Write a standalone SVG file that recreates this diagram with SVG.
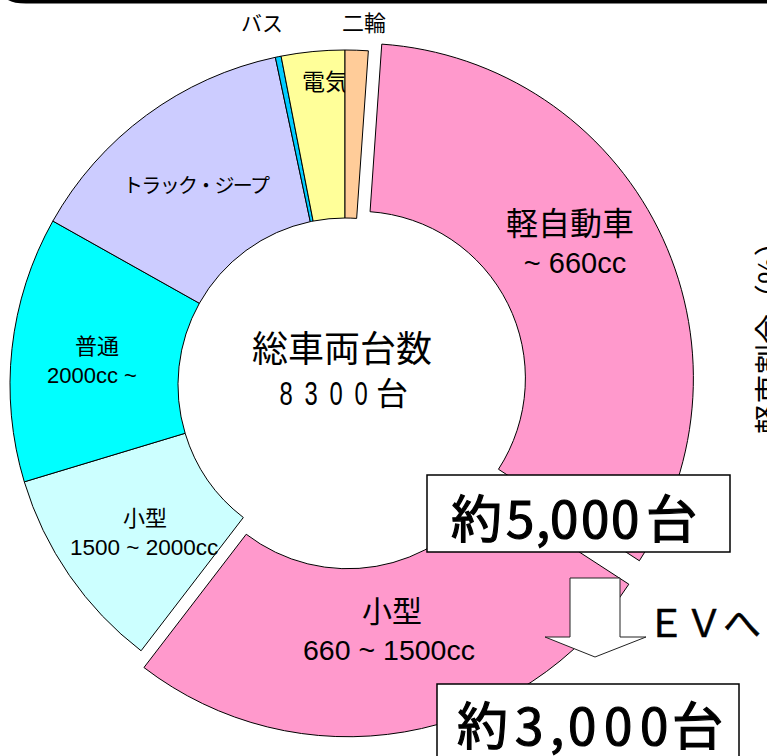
<svg xmlns="http://www.w3.org/2000/svg" width="767" height="756" viewBox="0 0 767 756">
<style>
.seg{stroke:#000;stroke-width:1;stroke-linejoin:round}
.jp{font-family:"Noto Sans CJK JP","Noto Sans",sans-serif;fill:#000}
.lat{font-family:"Liberation Sans",Arial,sans-serif;fill:#000}
.box{fill:#fff;stroke:#000;stroke-width:1.5}
.big{font-size:51px;stroke:#000;stroke-width:1.2}
</style>
<rect x="0" y="0" width="767" height="756" fill="#fff"/>
<path d="M8 0 Q14 3.5 26 3.5 L767 3.5 L767 0 Z" fill="#000"/>

<g id="seg-kogata2">
<path class="seg" fill="#CCFFFF" d="M141.07 650.77 A335 335 0 0 1 24.30 481.83 L185.13 433.27 A167 167 0 0 0 243.34 517.49 Z"/>
<text class="jp" x="145" y="526" font-size="22" text-anchor="middle">小型</text>
<text class="lat" x="70" y="555" font-size="22.5">1500 ~ 2000cc</text>
</g>
<g id="seg-futsu">
<path class="seg" fill="#00FFFF" d="M24.30 481.83 A335 335 0 0 1 52.86 221.06 L199.36 303.27 A167 167 0 0 0 185.13 433.27 Z"/>
<text class="jp" x="97" y="354" font-size="22" text-anchor="middle">普通</text>
<text class="lat" x="47" y="383" font-size="22">2000cc ~</text>
</g>
<g id="seg-truck">
<path class="seg" fill="#CCCCFF" d="M52.86 221.06 A335 335 0 0 1 275.35 57.32 L310.28 221.65 A167 167 0 0 0 199.36 303.27 Z"/>
<text class="jp" x="123" y="193" font-size="20" textLength="147" lengthAdjust="spacing">トラック・ジープ</text>
</g>
<g id="seg-bus">
<path class="seg" fill="#00CCFF" d="M275.35 57.32 A335 335 0 0 1 281.08 56.15 L313.13 221.07 A167 167 0 0 0 310.28 221.65 Z"/>
<text class="jp" x="262" y="31" font-size="21" text-anchor="middle">バス</text>
</g>
<g id="seg-denki">
<path class="seg" fill="#FFFF99" d="M281.08 56.15 A335 335 0 0 1 345 50 L345 218 A167 167 0 0 0 313.13 221.07 Z"/>
<text class="jp" x="325" y="90" font-size="23" text-anchor="middle">電気</text>
</g>
<g id="seg-nirin">
<path class="seg" fill="#FFCC99" d="M345 50 A335 335 0 0 1 368.37 50.82 L356.65 218.41 A167 167 0 0 0 345 218 Z"/>
<text class="jp" x="364" y="31" font-size="22" text-anchor="middle">二輪</text>
</g>
<g id="seg-kei">
<path class="seg" fill="#FF99CC" d="M381.77 44.12 A335 335 0 0 1 639.35 560.75 L498.46 469.25 A167 167 0 0 0 370.05 211.71 Z"/>
<text class="jp" x="570" y="235" font-size="32" text-anchor="middle">軽自動車</text>
<text class="lat" x="575" y="273" font-size="29" text-anchor="middle">~ 660cc</text>
</g>
<g id="seg-kogata1">
<path class="seg" fill="#FF99CC" d="M628.83 584.20 A335 335 0 0 1 143.95 667.52 L246.22 534.24 A167 167 0 0 0 487.94 492.70 Z"/>
<text class="jp" x="392" y="622" font-size="30" text-anchor="middle">小型</text>
<text class="lat" x="303" y="660" font-size="28.5">660 ~ 1500cc</text>
</g>

<g id="center-label">
<text class="jp" x="342" y="362" font-size="36" text-anchor="middle">総車両台数</text>
<text class="lat" font-size="34" text-anchor="middle" transform="translate(286,405) scale(0.7,1)">8</text>
<text class="lat" font-size="34" text-anchor="middle" transform="translate(311,405) scale(0.7,1)">3</text>
<text class="lat" font-size="34" text-anchor="middle" transform="translate(336,405) scale(0.7,1)">0</text>
<text class="lat" font-size="34" text-anchor="middle" transform="translate(361,405) scale(0.7,1)">0</text>
<text class="jp" x="392" y="405" font-size="32" text-anchor="middle">台</text>
</g>

<g id="connectors">
<polygon points="570,578 620,578 620,637 646,637 595,657 545,637 570,637" fill="#fff" stroke="#222" stroke-width="1"/>
</g>

<g id="box-5000">
<rect class="box" x="427" y="475" width="303" height="77"/>
<text class="jp big" y="538" x="451 506 536 550 581 611 646">約5,000台</text>
</g>
<g id="box-3000">
<rect class="box" x="437" y="684" width="302" height="90"/>
<text class="jp big" y="745" x="457 515 550 568 604 640 672">約3,000台</text>
</g>
<g id="ev-label">
<text class="jp" x="647" y="637" font-size="38" stroke="#000" stroke-width="0.5">ＥＶへ</text>
</g>
<g id="axis-label">
<text class="jp" font-size="30" transform="translate(780,434) rotate(-90)">軽車割合（%）</text>
</g>
</svg>
